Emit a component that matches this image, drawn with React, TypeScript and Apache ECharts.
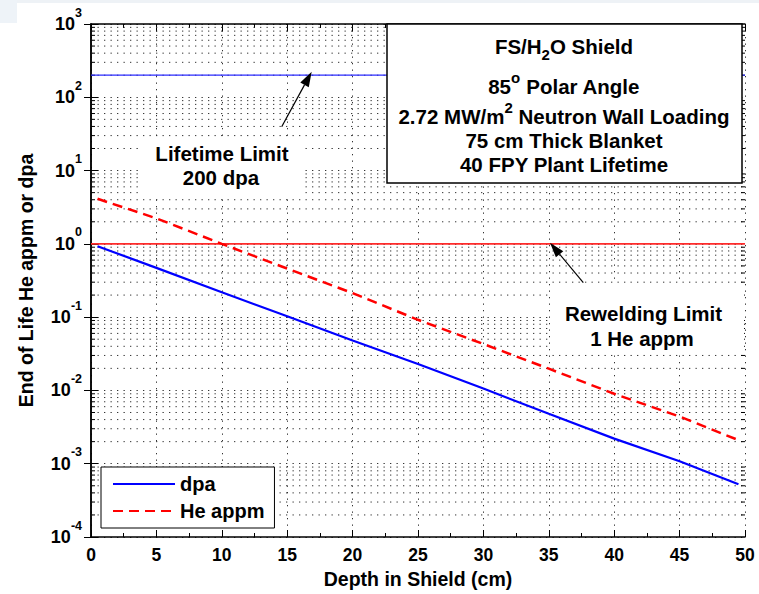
import React, { useEffect, useRef } from "react";
import * as echarts from "echarts";

const FONT = "'Liberation Sans', Arial, Helvetica, sans-serif";

// Depth in shield (cm)
const depth = [0.5, 5, 10, 15, 20, 25, 30, 35, 40, 45, 49.5];
// End-of-life dpa
const dpa = [0.93, 0.47, 0.218, 0.103, 0.048, 0.023, 0.0106, 0.0048, 0.0022, 0.00108, 0.000525];
// End-of-life He appm
const heAppm = [4.12, 2.23, 1.0, 0.46, 0.213, 0.092, 0.043, 0.0198, 0.009, 0.0044, 0.0021];

// Limits
const limitX = [0, 50];
const lifetimeLimit = 200; // dpa
const reweldLimit = 1; // He appm

// Axis structure
const yDecades = [1e-4, 1e-3, 1e-2, 1e-1, 1e0, 1e1, 1e2];
const yMinorMultipliers = [2, 3, 4, 5, 6, 7, 8, 9];
const yMinor = yDecades.flatMap((d) => yMinorMultipliers.map((m) => m * d));

const seriesNames = ["dpa", "He appm"];

export default function App() {
  const ref = useRef<HTMLDivElement>(null);

  useEffect(() => {
    document.body.style.margin = "0";
    if (!ref.current) return;
    const chart = echarts.init(ref.current, undefined, { renderer: "svg" });

    const dotted = [1.3, 5.2];
    const gridColor = "#333";
    const annSize = 20.5;
    const textStyleBase = {
      fontFamily: FONT,
      fontWeight: "bold" as const,
      fontSize: annSize,
      fill: "#000",
    };

    const boxRich = {
      a: { fontFamily: FONT, fontWeight: "bold", fontSize: annSize, lineHeight: 32, color: "#000" },
      sub: { fontFamily: FONT, fontWeight: "bold", fontSize: 15, lineHeight: 14, verticalAlign: "bottom", color: "#000" },
      sup: { fontFamily: FONT, fontWeight: "bold", fontSize: 15, lineHeight: 14, verticalAlign: "top", color: "#000" },
    };

    const boxText = (text: string, x: number, y: number) => ({
      type: "text",
      z: 110,
      silent: true,
      style: {
        text,
        x,
        y,
        align: "center",
        verticalAlign: "middle",
        rich: boxRich,
        ...textStyleBase,
      },
    });

    const plainText = (text: string, x: number, y: number) => ({
      type: "text",
      z: 110,
      silent: true,
      style: { text, x, y, align: "center", verticalAlign: "middle", ...textStyleBase },
    });

    const arrow = (tail: number[], tip: number[]) => {
      const dx = tip[0] - tail[0];
      const dy = tip[1] - tail[1];
      const len = Math.sqrt(dx * dx + dy * dy);
      const ux = dx / len;
      const uy = dy / len;
      const hl = 15;
      const hw = 4.8;
      const bx = tip[0] - hl * ux;
      const by = tip[1] - hl * uy;
      const nx = -uy * hw;
      const ny = ux * hw;
      return [
        {
          type: "line",
          z: 120,
          silent: true,
          shape: { x1: tail[0], y1: tail[1], x2: bx, y2: by },
          style: { stroke: "#000", lineWidth: 1.2 },
        },
        {
          type: "polygon",
          z: 120,
          silent: true,
          shape: { points: [tip, [bx + nx, by + ny], [bx - nx, by - ny]] },
          style: { fill: "#000" },
        },
      ];
    };

    const option: any = {
      animation: false,
      backgroundColor: "#fff",
      grid: { left: 91, right: 14, top: 24, bottom: 55, containLabel: false },
      legend: {
        data: seriesNames,
        orient: "vertical",
        left: 101,
        top: 467,
        padding: [7, 10, 7, 11],
        itemGap: 7,
        itemWidth: 62,
        itemHeight: 14,
        backgroundColor: "#fff",
        borderColor: "#000",
        borderWidth: 1,
        itemStyle: { opacity: 0 },
        textStyle: { fontFamily: FONT, fontWeight: "bold", fontSize: 20, color: "#000" },
        z: 50,
      },
      xAxis: [
        {
          type: "value",
          min: 0,
          max: 50,
          interval: 5,
          name: "Depth in Shield (cm)",
          nameLocation: "middle",
          nameGap: 32,
          nameTextStyle: { fontFamily: FONT, fontWeight: "bold", fontSize: 19.5, color: "#000" },
          axisLine: { show: true, lineStyle: { color: "#000", width: 1.5 } },
          axisTick: { show: true, inside: true, length: 7, lineStyle: { color: "#000", width: 1 } },
          minorTick: { show: true, splitNumber: 2, length: 4, lineStyle: { color: "#000", width: 1 } },
          axisLabel: { fontFamily: FONT, fontWeight: "bold", fontSize: 17.5, color: "#000", margin: 9 },
          splitLine: { show: true, lineStyle: { color: gridColor, width: 1, type: dotted } },
        },
        {
          type: "value",
          position: "top",
          min: 0,
          max: 50,
          interval: 5,
          axisLine: { show: true, lineStyle: { color: "#000", width: 1.5 } },
          axisTick: { show: true, inside: true, length: 7, lineStyle: { color: "#000", width: 1 } },
          minorTick: { show: true, splitNumber: 2, length: 4, lineStyle: { color: "#000", width: 1 } },
          axisLabel: { show: false },
          splitLine: { show: false },
        },
      ],
      yAxis: [
        {
          type: "log",
          logBase: 10,
          min: 1e-4,
          max: 1e3,
          splitNumber: 7,
          name: "End of Life He appm or dpa",
          nameLocation: "middle",
          nameGap: 55,
          nameTextStyle: { fontFamily: FONT, fontWeight: "bold", fontSize: 19.5, color: "#000" },
          axisLine: { show: true, lineStyle: { color: "#000", width: 1.5 } },
          axisTick: { show: true, inside: true, length: 7, lineStyle: { color: "#000", width: 1 } },
          axisLabel: {
            margin: 9,
            formatter: (v: number) => `{b|10}{s|${Math.round(Math.log10(v))}}`,
            rich: {
              b: { fontFamily: FONT, fontWeight: "bold", fontSize: 18, color: "#000", lineHeight: 36 },
              s: { fontFamily: FONT, fontWeight: "bold", fontSize: 12.5, color: "#000", lineHeight: 13, verticalAlign: "top" },
            },
          },
          splitLine: { show: true, lineStyle: { color: gridColor, width: 1, type: dotted } },
        },
        {
          type: "log",
          logBase: 10,
          min: 1e-4,
          max: 1e3,
          splitNumber: 7,
          position: "right",
          axisLine: { show: true, lineStyle: { color: "#000", width: 1.5 } },
          axisTick: { show: true, inside: true, length: 7, lineStyle: { color: "#000", width: 1 } },
          axisLabel: { show: false },
          splitLine: { show: false },
        },
      ],
      series: [
        {
          name: "minorGrid",
          type: "custom",
          silent: true,
          z: 1,
          xAxisIndex: 0,
          yAxisIndex: 0,
          data: yMinor.map((v) => [0, v]),
          encode: { x: 0, y: 1 },
          renderItem: (params: any, api: any) => {
            const cs = params.coordSys;
            const y = api.coord([0, api.value(1)])[1];
            return {
              type: "group",
              children: [
                {
                  type: "line",
                  shape: { x1: cs.x, y1: y, x2: cs.x + cs.width, y2: y },
                  style: { stroke: gridColor, lineWidth: 1, lineDash: dotted },
                },
                {
                  type: "line",
                  shape: { x1: cs.x, y1: y, x2: cs.x + 4, y2: y },
                  style: { stroke: "#000", lineWidth: 1 },
                },
                {
                  type: "line",
                  shape: { x1: cs.x + cs.width - 4, y1: y, x2: cs.x + cs.width, y2: y },
                  style: { stroke: "#000", lineWidth: 1 },
                },
              ],
            };
          },
        },
        {
          name: "Lifetime Limit",
          type: "line",
          z: 3,
          symbol: "none",
          silent: true,
          data: limitX.map((x) => [x, lifetimeLimit]),
          lineStyle: { color: "#2b2bff", width: 1.3 },
        },
        {
          name: "Rewelding Limit",
          type: "line",
          z: 3,
          symbol: "none",
          silent: true,
          data: limitX.map((x) => [x, reweldLimit]),
          lineStyle: { color: "#ff2b2b", width: 1.6 },
        },
        {
          name: "dpa",
          type: "line",
          z: 4,
          symbol: "none",
          color: "#0000ff",
          data: depth.map((x, i) => [x, dpa[i]]),
          lineStyle: { color: "#0000ff", width: 2.2 },
        },
        {
          name: "He appm",
          type: "line",
          z: 4,
          symbol: "none",
          color: "#ff0000",
          data: depth.map((x, i) => [x, heAppm[i]]),
          lineStyle: { color: "#ff0000", width: 2.5, type: [10, 6] },
        },
      ],
      graphic: [
        { type: "rect", z: 0, silent: true, shape: { x: 0, y: 0, width: 759, height: 3 }, style: { fill: "#eef2f6" } },
        { type: "rect", z: 0, silent: true, shape: { x: 0, y: 0, width: 17, height: 23 }, style: { fill: "#eef3f8" } },
        // Lifetime label background
        { type: "rect", z: 100, silent: true, shape: { x: 143, y: 137, width: 159, height: 58 }, style: { fill: "#fff" } },
        plainText("Lifetime Limit", 222, 153),
        plainText("200 dpa", 221, 177),
        ...arrow([281.7, 126.7], [311.7, 71.7]),
        // Rewelding label background
        { type: "rect", z: 100, silent: true, shape: { x: 550, y: 284, width: 194, height: 67 }, style: { fill: "#fff" } },
        plainText("Rewelding Limit", 643.5, 313),
        plainText("1 He appm", 642, 338),
        ...arrow([583.3, 282.7], [550, 242.7]),
        // Info box
        {
          type: "rect",
          z: 100,
          silent: true,
          shape: { x: 387, y: 24, width: 355, height: 159 },
          style: { fill: "#fff", stroke: "#000", lineWidth: 1.5 },
        },
        boxText("{a|FS/H}{sub|2}{a|O Shield}", 564, 46),
        boxText("{a|85}{sup|o}{a| Polar Angle}", 564, 86),
        boxText("{a|2.72 MW/m}{sup|2}{a| Neutron Wall Loading}", 564, 116),
        boxText("{a|75 cm Thick Blanket}", 564, 140),
        boxText("{a|40 FPY Plant Lifetime}", 564, 164),
      ],
    };

    chart.setOption(option);
    return () => chart.dispose();
  }, []);

  return <div ref={ref} style={{ width: 759, height: 594 }} />;
}
